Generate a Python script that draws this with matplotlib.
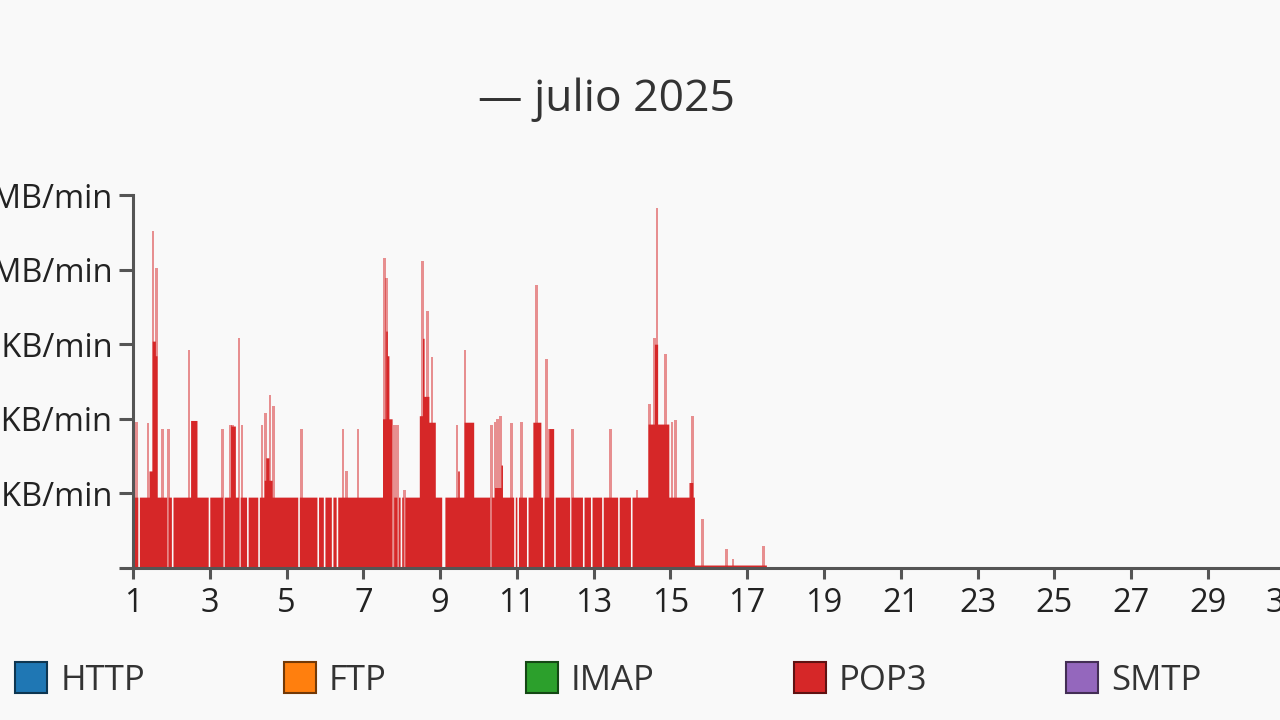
import numpy as np
import matplotlib
matplotlib.use("Agg")
import matplotlib.pyplot as plt
from matplotlib.patches import Patch
from matplotlib.ticker import NullLocator

plt.rcParams['font.family'] = ['Open Sans', 'DejaVu Sans']

protocols = ['HTTP', 'FTP', 'IMAP', 'POP3', 'SMTP']
colors = ['#1f77b4', '#ff7f0e', '#2ca02c', '#d62728', '#9467bd']

day_ticks = list(range(1, 32, 2))
rate_ticks = [0, 1, 10, 100, 1000, 10000]  # KB/min
rate_labels = ['', '1 KB/min', '10 KB/min', '100 KB/min', '1 MB/min', '10 MB/min']

# POP3 steady traffic: (start day, end day, KB/min)
pop3_runs = [(1.0, 15.62, 0.95), (15.62, 17.5, 0.04)]

# elevated stretches: (start day, end day, KB/min)
pop3_blocks = [
    (1.40, 1.50, 2.0), (1.50, 1.56, 110), (1.56, 1.62, 70),
    (2.48, 2.66, 9.5), (3.53, 3.66, 8.0),
    (4.38, 4.62, 1.5), (4.45, 4.52, 3.0),
    (7.50, 7.75, 10), (7.55, 7.60, 150), (7.60, 7.66, 70),
    (8.42, 8.57, 11), (8.52, 8.58, 120), (8.58, 8.70, 20), (8.70, 8.86, 9),
    (9.43, 9.50, 2.0), (9.60, 9.86, 9),
    (10.40, 10.55, 1.2), (10.55, 10.62, 2.4),
    (11.38, 11.60, 9), (11.80, 11.92, 7.4),
    (14.41, 14.93, 8.5), (14.57, 14.66, 100),
    (15.50, 15.58, 1.4),
]

# hours without traffic (day)
pop3_gaps = [1.13, 1.87, 1.99, 2.95, 3.32, 3.73, 3.97, 4.26, 5.30, 5.79,
             5.97, 6.18, 6.31, 7.77, 7.87, 7.95, 8.03, 9.04, 9.10, 10.30,
             10.92, 10.98, 11.26, 11.65, 11.94, 12.36, 12.69, 12.92, 13.22,
             13.62, 13.94]

# single-hour peaks: day, KB/min
spike_days = [1.10, 1.39, 1.52, 1.62, 1.76, 1.92, 2.46, 3.34, 3.53, 3.60,
              3.76, 3.84, 4.36, 4.46, 4.57, 4.65, 5.38, 6.47, 6.57, 6.86,
              7.56, 7.61, 7.82, 7.90, 8.08, 8.55, 8.68, 8.79, 9.44, 9.65,
              10.35, 10.43, 10.50, 10.58, 10.87, 11.13, 11.52, 11.78, 11.86,
              12.46, 13.45, 14.13, 14.46, 14.59, 14.65, 14.88, 15.04, 15.14,
              15.51, 15.58, 15.84, 16.47, 16.63, 17.43]
spike_rates = [9.2, 8.8, 3250, 1040, 7.4, 7.4, 83, 7.4, 8.2, 8.2,
               120, 8.2, 8.2, 12, 21, 15, 7.4, 7.4, 2.0, 7.4,
               1410, 760, 8.2, 8.2, 1.1, 1290, 275, 68, 8.2, 83,
               8.2, 9.0, 10, 11, 8.7, 9.2, 613, 64, 7.4,
               7.4, 7.4, 1.1, 16, 120, 6600, 75, 9.2, 9.5,
               1.36, 11, 0.66, 0.25, 0.12, 0.29]


def hourly_series(runs, blocks, gaps):
    """Assemble the hourly POP3 rate from the read-off pieces."""
    t = np.arange(1, 32, 1 / 24)
    vals = np.zeros_like(t)
    for s, e, lvl in runs + blocks:
        m = (t >= s) & (t < e)
        vals[m] = np.maximum(vals[m], lvl)
    for g in gaps:
        vals[int(round((g - 1) * 24))] = 0
    return t, vals


bg = '#f9f9f9'
fig = plt.figure(figsize=(12.8, 7.2), dpi=100, facecolor=bg)
ax = fig.add_axes([133 / 1280, 152 / 720, 1190 / 1280, 373 / 720], facecolor=bg)

t, vals = hourly_series(pop3_runs, pop3_blocks, pop3_gaps)
red = colors[3]
ax.fill_between(t, vals, step='post', color=red, lw=0)
ax.bar(spike_days, spike_rates, width=0.075, color=red, alpha=0.5, lw=0)

ax.set_yscale('symlog', linthresh=1, linscale=0.9)
ax.set_ylim(0, 10000)
ax.set_xlim(1, 32)
ax.set_yticks(rate_ticks)
ax.set_yticklabels(rate_labels)
ax.yaxis.set_minor_locator(NullLocator())
ax.set_xticks(day_ticks)

for side in ['top', 'right']:
    ax.spines[side].set_visible(False)
for side in ['left', 'bottom']:
    ax.spines[side].set_color('#555555')
    ax.spines[side].set_linewidth(2.2)
ax.tick_params(axis='both', colors='#555555', width=2.2, labelcolor='#222222',
               labelsize=23.5)
ax.tick_params(axis='y', length=10, pad=5)
ax.tick_params(axis='x', length=8, pad=6)

fig.text(606 / 1280, 1 - 100 / 720, '— julio 2025', ha='center', va='center',
         fontsize=32, color='#333333')

handles = [Patch(facecolor=c, edgecolor=tuple(0.45 * v for v in matplotlib.colors.to_rgb(c)),
                 linewidth=1.5) for c in colors]
fig.legend(handles, protocols, loc='center left', bbox_to_anchor=(15 / 1280, 40 / 720),
           ncol=5, frameon=False, fontsize=25, handlelength=0.92, handleheight=1.0,
           handletextpad=0.38, columnspacing=4.0, borderpad=0, borderaxespad=0,
           labelcolor='#333333')

fig.savefig('out.png', dpi=100, facecolor=bg)
